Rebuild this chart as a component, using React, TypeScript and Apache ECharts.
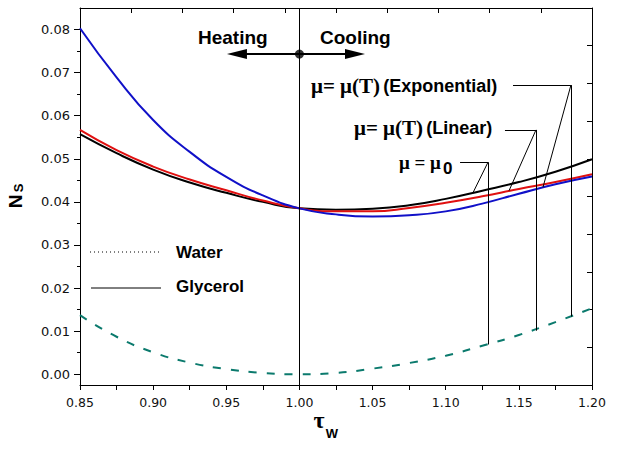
import { useEffect, useRef } from "react";
import * as echarts from "echarts";

// tau_w sampled every 0.025
const tau = [0.85, 0.875, 0.9, 0.925, 0.95, 0.975, 1.0, 1.025, 1.05, 1.075, 1.1, 1.125, 1.15, 1.175, 1.2];
// Glycerol, mu = mu0 (black)
const nsConst = [0.0557, 0.0513, 0.0475, 0.0445, 0.0421, 0.04, 0.0385, 0.0382, 0.0384, 0.0392, 0.0407, 0.0426, 0.0446, 0.047, 0.0499];
// Glycerol, mu = mu(T) linear (red)
const nsLinear = [0.0567, 0.052, 0.0482, 0.0452, 0.0427, 0.0403, 0.0385, 0.0378, 0.0378, 0.0386, 0.0398, 0.0413, 0.043, 0.0446, 0.0464];
// Glycerol, mu = mu(T) exponential (blue)
const nsExp = [0.0803, 0.0689, 0.059, 0.0516, 0.0458, 0.0415, 0.0385, 0.0371, 0.0366, 0.0369, 0.0378, 0.0396, 0.0419, 0.0441, 0.0459];
// Water (teal dashed)
const nsWater = [0.0137, 0.0087, 0.0051, 0.0027, 0.0012, 0.0003, 0.0, 0.0003, 0.0013, 0.0026, 0.0043, 0.0066, 0.0091, 0.0121, 0.0153];

const yTicks = [0, 0.01, 0.02, 0.03, 0.04, 0.05, 0.06, 0.07, 0.08];
const yMinor = [0.005, 0.015, 0.025, 0.035, 0.045, 0.055, 0.065, 0.075];

// leader lines of the curve labels: [start, corner, point on curve, point on water curve]
const leaderExp = [[1.146, 0.0671], [1.1856, 0.0671], [1.1665, 0.0434], [1.1856, 0.0134]];
const leaderLin = [[1.1405, 0.0567], [1.1617, 0.0567], [1.1433, 0.0426], [1.1617, 0.0101]];
const leaderConst = [[1.1098, 0.0492], [1.1289, 0.0492], [1.1186, 0.0421], [1.1289, 0.0069]];

// heating / cooling arrow
const arrowCenter = [1.0, 0.0743];
const arrowLeft = [0.9573, 0.0743];
const arrowRight = [1.038, 0.0743];

const pairs = (ys: number[]) => tau.map((t, i) => [t, ys[i]]);

const sans = "'Liberation Sans', Arial, sans-serif";
const serif = "'Liberation Serif', 'Times New Roman', serif";
const tickFont = "'DejaVu Sans', sans-serif";

function leaderLines(l: number[][]) {
  return [
    [{ coord: l[0] }, { coord: l[1] }],
    [{ coord: l[1] }, { coord: l[2] }],
    [{ coord: l[1] }, { coord: l[3] }],
  ];
}

export default function App() {
  const chartRef = useRef<HTMLDivElement>(null);

  useEffect(() => {
    document.body.style.margin = "0";
    const chart = echarts.init(chartRef.current, null, { renderer: "svg" });

    const axisLine = { show: true, onZero: false, lineStyle: { color: "#000", width: 1 } };
    const tickStyle = { color: "#000", width: 1 };

    const options: any = {
      animation: false,
      backgroundColor: "#fff",
      grid: { left: 80, right: 28, top: 8, bottom: 66, containLabel: false, outerBoundsMode: "none" },
      xAxis: [
        {
          type: "value",
          position: "bottom",
          min: 0.85,
          max: 1.2,
          interval: 0.05,
          axisLine,
          axisTick: { show: true, inside: false, length: 5, lineStyle: tickStyle },
          minorTick: { show: true, splitNumber: 2, length: 5, lineStyle: tickStyle },
          splitLine: { show: false },
          minorSplitLine: { show: false },
          axisLabel: {
            color: "#111",
            fontFamily: tickFont,
            fontSize: 12.5,
            margin: 11,
            formatter: (v: number) => v.toFixed(2),
          },
        },
        {
          type: "value",
          position: "top",
          min: 0,
          max: 10,
          interval: 1,
          axisLine,
          axisTick: { show: true, inside: true, length: 5, lineStyle: tickStyle },
          axisLabel: { show: false },
          splitLine: { show: false },
        },
      ],
      yAxis: [
        {
          type: "value",
          position: "left",
          min: -0.0025,
          max: 0.085,
          axisLine,
          axisTick: { show: true, inside: false, length: 6, lineStyle: tickStyle, customValues: yTicks },
          splitLine: { show: false },
          axisLabel: {
            customValues: yTicks,
            color: "#111",
            fontFamily: tickFont,
            fontSize: 13,
            margin: 10,
            formatter: (v: number) => v.toFixed(2),
          },
        },
        {
          type: "value",
          position: "left",
          min: -0.0025,
          max: 0.085,
          axisLine: { show: false, onZero: false },
          axisTick: { show: true, inside: false, length: 3, lineStyle: tickStyle, customValues: yMinor },
          axisLabel: { show: false },
          splitLine: { show: false },
        },
        {
          type: "value",
          position: "right",
          min: 0,
          max: 10,
          interval: 1,
          axisLine,
          axisTick: { show: true, inside: true, length: 5, lineStyle: tickStyle },
          axisLabel: { show: false },
          splitLine: { show: false },
        },
      ],
      series: [
        {
          name: "Water",
          type: "line",
          data: pairs(nsWater),
          smooth: true,
          showSymbol: false,
          lineStyle: { color: "#0b7a6d", width: 2, type: [8, 10] },
          silent: true,
        },
        {
          name: "Glycerol mu0",
          type: "line",
          data: pairs(nsConst),
          smooth: true,
          showSymbol: false,
          lineStyle: { color: "#000", width: 2 },
          silent: true,
          markLine: {
            silent: true,
            symbol: "none",
            label: { show: false },
            emphasis: { disabled: true },
            lineStyle: { color: "#000", width: 1, type: "solid" },
            data: [
              { xAxis: 1.0 },
              ...leaderLines(leaderExp),
              ...leaderLines(leaderLin),
              ...leaderLines(leaderConst),
              [
                { coord: arrowCenter, symbol: "none", lineStyle: { width: 2 } },
                { coord: arrowLeft, symbol: "triangle", symbolSize: [10, 20] },
              ],
              [
                { coord: arrowCenter, symbol: "none", lineStyle: { width: 2 } },
                { coord: arrowRight, symbol: "triangle", symbolSize: [10, 20] },
              ],
            ],
          },
        },
        {
          name: "Glycerol linear",
          type: "line",
          data: pairs(nsLinear),
          smooth: true,
          showSymbol: false,
          lineStyle: { color: "#e01010", width: 2 },
          silent: true,
        },
        {
          name: "Glycerol exponential",
          type: "line",
          data: pairs(nsExp),
          smooth: true,
          showSymbol: false,
          lineStyle: { color: "#1010c8", width: 2 },
          silent: true,
        },
        {
          name: "pivot",
          type: "scatter",
          data: [arrowCenter],
          symbolSize: 9,
          itemStyle: { color: "#000" },
          silent: true,
          z: 5,
        },
        // empty series so the frame axes (top / right / minor ticks) are laid out with a cartesian
        { name: "frame", type: "line", data: [], xAxisIndex: 1, yAxisIndex: 2, silent: true },
        { name: "minor", type: "line", data: [], xAxisIndex: 0, yAxisIndex: 1, silent: true },
      ],
      graphic: [
        { type: "text", x: 198, y: 37, style: { text: "Heating", font: `bold 19px ${sans}`, fill: "#000", align: "left", verticalAlign: "middle" } },
        { type: "text", x: 320, y: 37, style: { text: "Cooling", font: `bold 19px ${sans}`, fill: "#000", align: "left", verticalAlign: "middle" } },
        {
          type: "text",
          x: 311,
          y: 86,
          style: {
            text: "{a|μ= μ(T)} {b|(Exponential)}",
            rich: {
              a: { font: `bold 21px ${serif}`, fill: "#000" },
              b: { font: `bold 18px ${sans}`, fill: "#000" },
            },
            verticalAlign: "middle",
          },
        },
        {
          type: "text",
          x: 354,
          y: 128,
          style: {
            text: "{a|μ= μ(T)} {b|(Linear)}",
            rich: {
              a: { font: `bold 21px ${serif}`, fill: "#000" },
              b: { font: `bold 18px ${sans}`, fill: "#000" },
            },
            verticalAlign: "middle",
          },
        },
        { type: "text", x: 399, y: 162, style: { text: "μ = μ", font: `bold 19px ${serif}`, fill: "#000", verticalAlign: "middle" } },
        { type: "text", x: 443, y: 168, style: { text: "0", font: `bold 17px ${sans}`, fill: "#000", verticalAlign: "middle" } },
        // legend
        { type: "line", shape: { x1: 90, y1: 252, x2: 162, y2: 252 }, style: { stroke: "#000", lineWidth: 1, lineDash: [1, 3] } },
        { type: "text", x: 176, y: 252, style: { text: "Water", font: `bold 17px ${sans}`, fill: "#000", verticalAlign: "middle" } },
        { type: "line", shape: { x1: 91, y1: 288, x2: 161, y2: 288 }, style: { stroke: "#000", lineWidth: 1 } },
        { type: "text", x: 176, y: 286, style: { text: "Glycerol", font: `bold 17px ${sans}`, fill: "#000", verticalAlign: "middle" } },
        // axis names
        { type: "text", x: 15, y: 201.5, rotation: Math.PI / 2, style: { text: "N", font: `bold 19px ${sans}`, fill: "#000", align: "center", verticalAlign: "middle" } },
        { type: "text", x: 18.5, y: 188, rotation: Math.PI / 2, style: { text: "S", font: `bold 13px ${sans}`, fill: "#000", align: "center", verticalAlign: "middle" } },
        { type: "text", x: 319, y: 420, style: { text: "τ", font: `bold 24px ${serif}`, fill: "#000", align: "center", verticalAlign: "middle" } },
        { type: "text", x: 332, y: 433, style: { text: "W", font: `bold 13px ${sans}`, fill: "#000", align: "center", verticalAlign: "middle" } },
      ],
    };

    chart.setOption(options);
    return () => {
      chart.dispose();
    };
  }, []);

  return <div ref={chartRef} style={{ width: 620, height: 451 }}></div>;
}
